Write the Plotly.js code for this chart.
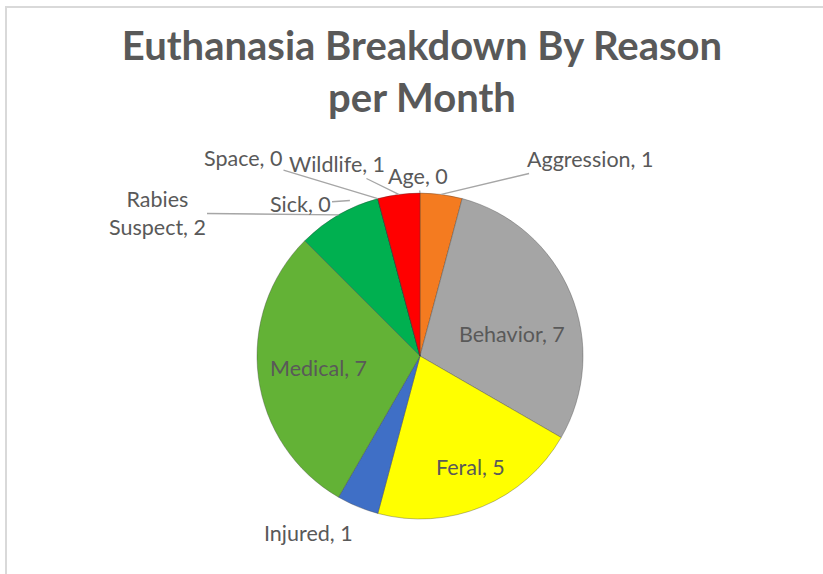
<!DOCTYPE html>
<html>
<head>
<meta charset="utf-8">
<script src="https://cdn.plot.ly/plotly-3.0.1.min.js"></script>
<style>
  html, body { margin: 0; padding: 0; background: #fff; }
  #chart { width: 823px; height: 574px; }
  #frame { position: absolute; left: 5px; top: 6px; width: 830px; height: 580px;
           border-top: 2px solid #d9d9d9; border-left: 2px solid #d9d9d9; pointer-events: none; }
</style>
</head>
<body>
<div id="chart"></div>
<div id="frame"></div>
<script>
// ---- data ----
const labels = ['Age', 'Aggression', 'Behavior', 'Feral', 'Injured', 'Medical', 'Rabies Suspect', 'Sick', 'Space', 'Wildlife'];
const values = [0, 1, 7, 5, 1, 7, 2, 0, 0, 1];
const colors = ['#4472C4', '#F47B20', '#A5A5A5', '#FFFF00', '#3F6FC6', '#63B236', '#00B050', '#7030A0', '#264478', '#FF0000'];

// ---- layout constants ----
const W = 823, H = 574;
const CX = 420, CY = 356, R = 163;
const labelFont = {family: 'Lato, Carlito, sans-serif', size: 21.5, color: '#595959'};
// label text centres (px); third field: draw a leader line
const labelPos = {
  'Age':            [418, 176, true],
  'Aggression':     [590, 159, true],
  'Wildlife':       [337, 164, true],
  'Space':          [243, 158, true],
  'Sick':           [300, 204, true],
  'Rabies Suspect': [157, 213, true],
  'Injured':        [308, 533, false],
  'Behavior':       [512, 334, false],
  'Medical':        [318, 368, false],
  'Feral':          [470, 467, false]
};

const total = values.reduce((a, b) => a + b, 0);

const annotations = [];
let cum = 0;
labels.forEach((l, i) => {
  const start = cum;
  cum += values[i];
  if (!(l in labelPos)) return;
  const frac = values[i] > 0 ? (start + values[i] / 2) / total : start / total;
  const th = frac * 2 * Math.PI;
  const px = CX + R * Math.sin(th);
  const py = CY - R * Math.cos(th);
  const [lx, ly, arrow] = labelPos[l];
  const txt = (l === 'Rabies Suspect' ? 'Rabies<br>Suspect' : l) + ', ' + values[i];
  if (arrow) {
    annotations.push({
      xref: 'paper', yref: 'paper',
      x: px / W, y: 1 - py / H,
      ax: lx - px, ay: ly - py,
      text: txt, showarrow: true, arrowhead: 0, arrowwidth: 1.3, arrowcolor: '#A6A6A6',
      standoff: l === 'Sick' ? 28 : 0,
      font: labelFont, align: 'center'
    });
  } else {
    annotations.push({
      xref: 'paper', yref: 'paper',
      x: lx / W, y: 1 - ly / H, xanchor: 'center', yanchor: 'middle',
      text: txt, showarrow: false, font: labelFont
    });
  }
});

const trace = {
  type: 'pie',
  labels: labels,
  values: values,
  sort: false,
  direction: 'clockwise',
  rotation: 0,
  textinfo: 'none',
  marker: {colors: colors, line: {color: 'rgba(60,60,60,0.35)', width: 1}},
  domain: {x: [(CX - R) / W, (CX + R) / W], y: [1 - (CY + R) / H, 1 - (CY - R) / H]},
  hoverinfo: 'label+value',
  showlegend: false
};

const layout = {
  width: W, height: H,
  margin: {l: 0, r: 0, t: 0, b: 0},
  paper_bgcolor: '#ffffff',
  showlegend: false,
  title: {
    text: '<b>Euthanasia Breakdown By Reason</b><br><b>per Month</b>',
    font: {family: 'Lato, Carlito, sans-serif', size: 40, color: '#595959'},
    x: 422 / W, xanchor: 'center', xref: 'paper',
    y: 1 - 60 / H, yanchor: 'top', yref: 'paper'
  },
  annotations: annotations
};

Plotly.newPlot('chart', [trace], layout, {displayModeBar: false, staticPlot: true});
</script>
</body>
</html>
